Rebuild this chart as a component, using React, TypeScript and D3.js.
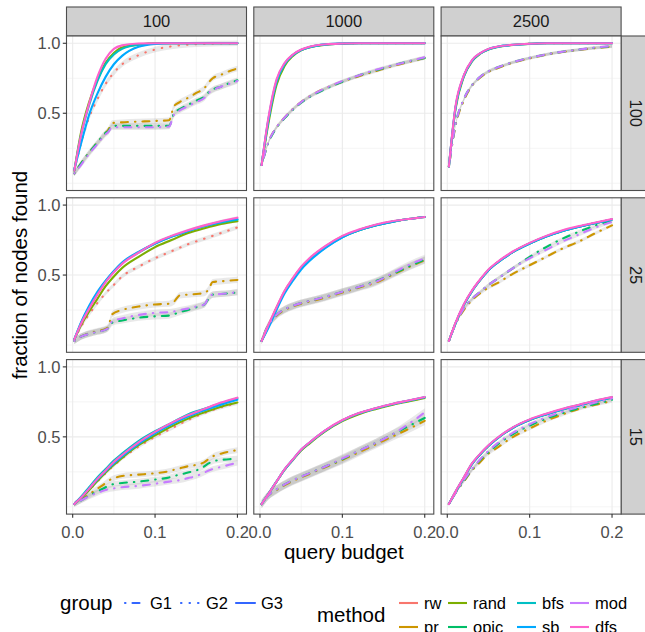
import React from "react";
import * as d3 from "d3";

// ---------- data ----------
const methods = ["rw", "pr", "rand", "opic", "bfs", "sb", "mod", "dfs"];
const methodColors = ["#F8766D", "#CD9600", "#7CAE00", "#00BE67", "#00BFC4", "#00A9FF", "#C77CFF", "#FF61CC"];
const methodGroup: Record<string, string> = { rw: "G2", pr: "G1", rand: "G3", opic: "G1", bfs: "G3", sb: "G3", mod: "G1", dfs: "G3" };
const groups = ["G1", "G2", "G3"];
const colLabels = ["100", "1000", "2500"];
const rowLabels = ["100", "25", "15"];
const xTicks = [0, 0.1, 0.2];
const xTickLabels = ["0.0", "0.1", "0.2"];
const xMinor = [0.05, 0.15];
const yTicks = [0.5, 1.0];
const yTickLabels = ["0.5", "1.0"];
const yMinor = [0, 0.25, 0.75];

// query budget grid (coarse, 14 pts) and fine grid for stepped series (21 pts)
const X = [0.002, 0.01, 0.02, 0.03, 0.04, 0.05, 0.06, 0.08, 0.1, 0.12, 0.14, 0.16, 0.18, 0.2];
const XS = [0.002, 0.01, 0.02, 0.03, 0.04, 0.043, 0.048, 0.06, 0.08, 0.1, 0.117, 0.123, 0.13, 0.14, 0.15, 0.16, 0.165, 0.17, 0.18, 0.19, 0.2];

// row "100"
const r100c100: Record<string, number[]> = {
  rw: [0.09, 0.28, 0.47, 0.6, 0.71, 0.79, 0.85, 0.915, 0.955, 0.978, 0.99, 0.995, 0.998, 1.0],
  pr: [0.07, 0.14, 0.22, 0.29, 0.36, 0.38, 0.43, 0.435, 0.44, 0.445, 0.45, 0.55, 0.58, 0.61, 0.645, 0.68, 0.72, 0.75, 0.775, 0.8, 0.82],
  rand: [0.09, 0.36, 0.58, 0.74, 0.86, 0.93, 0.97, 0.99, 1.0, 1.0, 1.0, 1.0, 1.0, 1.0],
  opic: [0.07, 0.14, 0.22, 0.29, 0.36, 0.37, 0.41, 0.41, 0.41, 0.41, 0.41, 0.5, 0.53, 0.56, 0.59, 0.62, 0.65, 0.67, 0.69, 0.715, 0.735],
  bfs: [0.09, 0.34, 0.56, 0.73, 0.85, 0.92, 0.96, 0.99, 0.998, 1.0, 1.0, 1.0, 1.0, 1.0],
  sb: [0.1, 0.28, 0.49, 0.64, 0.76, 0.85, 0.91, 0.975, 0.995, 1.0, 1.0, 1.0, 1.0, 1.0],
  mod: [0.07, 0.13, 0.21, 0.28, 0.35, 0.365, 0.4, 0.4, 0.4, 0.4, 0.405, 0.49, 0.52, 0.55, 0.58, 0.61, 0.645, 0.665, 0.69, 0.71, 0.73],
  dfs: [0.09, 0.34, 0.57, 0.76, 0.89, 0.96, 0.985, 0.998, 1.0, 1.0, 1.0, 1.0, 1.0, 1.0],
};
const r100c1000: Record<string, number[]> = {
  rw: [0.13, 0.44, 0.72, 0.85, 0.915, 0.95, 0.972, 0.99, 0.997, 1.0, 1.0, 1.0, 1.0, 1.0],
  pr: [0.13, 0.29, 0.4, 0.47, 0.53, 0.58, 0.62, 0.68, 0.725, 0.765, 0.8, 0.835, 0.865, 0.895],
  rand: [0.13, 0.42, 0.7, 0.84, 0.91, 0.95, 0.97, 0.99, 0.997, 1.0, 1.0, 1.0, 1.0, 1.0],
  opic: [0.13, 0.285, 0.395, 0.465, 0.525, 0.575, 0.615, 0.675, 0.725, 0.77, 0.805, 0.84, 0.87, 0.895],
  bfs: [0.13, 0.44, 0.72, 0.85, 0.915, 0.952, 0.972, 0.992, 0.998, 1.0, 1.0, 1.0, 1.0, 1.0],
  sb: [0.13, 0.45, 0.73, 0.855, 0.918, 0.953, 0.973, 0.992, 0.998, 1.0, 1.0, 1.0, 1.0, 1.0],
  mod: [0.13, 0.29, 0.4, 0.47, 0.53, 0.58, 0.62, 0.68, 0.73, 0.77, 0.81, 0.84, 0.87, 0.9],
  dfs: [0.13, 0.46, 0.74, 0.86, 0.92, 0.955, 0.975, 0.993, 0.998, 1.0, 1.0, 1.0, 1.0, 1.0],
};
const r100c2500: Record<string, number[]> = {
  rw: [0.12, 0.54, 0.765, 0.875, 0.928, 0.958, 0.974, 0.989, 0.996, 1.0, 1.0, 1.0, 1.0, 1.0],
  pr: [0.12, 0.41, 0.59, 0.695, 0.755, 0.795, 0.82, 0.862, 0.892, 0.918, 0.938, 0.953, 0.966, 0.976],
  rand: [0.12, 0.53, 0.76, 0.87, 0.925, 0.955, 0.972, 0.988, 0.996, 1.0, 1.0, 1.0, 1.0, 1.0],
  opic: [0.12, 0.42, 0.6, 0.7, 0.76, 0.8, 0.825, 0.865, 0.895, 0.92, 0.94, 0.955, 0.968, 0.978],
  bfs: [0.12, 0.54, 0.765, 0.875, 0.928, 0.958, 0.974, 0.989, 0.996, 1.0, 1.0, 1.0, 1.0, 1.0],
  sb: [0.12, 0.54, 0.765, 0.875, 0.928, 0.958, 0.974, 0.989, 0.996, 1.0, 1.0, 1.0, 1.0, 1.0],
  mod: [0.12, 0.42, 0.6, 0.7, 0.76, 0.8, 0.825, 0.865, 0.895, 0.92, 0.94, 0.955, 0.97, 0.98],
  dfs: [0.12, 0.55, 0.77, 0.88, 0.93, 0.96, 0.975, 0.99, 0.997, 1.0, 1.0, 1.0, 1.0, 1.0],
};

// row "25"
const r25c100: Record<string, number[]> = {
  rw: [0.04, 0.13, 0.22, 0.3, 0.37, 0.43, 0.49, 0.56, 0.62, 0.67, 0.72, 0.76, 0.8, 0.84],
  pr: [0.03, 0.06, 0.085, 0.1, 0.115, 0.13, 0.22, 0.25, 0.275, 0.29, 0.295, 0.31, 0.355, 0.36, 0.365, 0.37, 0.4, 0.45, 0.455, 0.46, 0.465],
  rand: [0.04, 0.14, 0.24, 0.33, 0.42, 0.49, 0.55, 0.63, 0.7, 0.75, 0.8, 0.835, 0.865, 0.885],
  opic: [0.03, 0.06, 0.08, 0.095, 0.11, 0.12, 0.16, 0.175, 0.195, 0.205, 0.21, 0.22, 0.235, 0.25, 0.27, 0.29, 0.33, 0.36, 0.365, 0.37, 0.375],
  bfs: [0.04, 0.155, 0.27, 0.37, 0.455, 0.525, 0.585, 0.66, 0.725, 0.775, 0.815, 0.85, 0.875, 0.895],
  sb: [0.04, 0.16, 0.28, 0.38, 0.46, 0.53, 0.59, 0.665, 0.725, 0.775, 0.815, 0.85, 0.88, 0.9],
  mod: [0.03, 0.06, 0.08, 0.095, 0.11, 0.12, 0.17, 0.19, 0.215, 0.23, 0.235, 0.24, 0.25, 0.26, 0.275, 0.29, 0.34, 0.36, 0.365, 0.37, 0.38],
  dfs: [0.04, 0.15, 0.26, 0.36, 0.45, 0.52, 0.58, 0.66, 0.73, 0.78, 0.82, 0.855, 0.885, 0.91],
};
const r25c1000: Record<string, number[]> = {
  rw: [0.03, 0.135, 0.265, 0.385, 0.475, 0.555, 0.615, 0.705, 0.775, 0.82, 0.855, 0.88, 0.9, 0.915],
  pr: [0.03, 0.14, 0.21, 0.25, 0.275, 0.295, 0.31, 0.34, 0.375, 0.41, 0.445, 0.5, 0.555, 0.605],
  rand: [0.03, 0.135, 0.265, 0.385, 0.475, 0.555, 0.615, 0.705, 0.775, 0.82, 0.855, 0.88, 0.9, 0.915],
  opic: [0.03, 0.14, 0.215, 0.255, 0.28, 0.3, 0.315, 0.345, 0.38, 0.415, 0.455, 0.505, 0.56, 0.61],
  bfs: [0.03, 0.13, 0.26, 0.38, 0.47, 0.55, 0.61, 0.7, 0.77, 0.82, 0.855, 0.88, 0.9, 0.915],
  sb: [0.03, 0.12, 0.25, 0.37, 0.46, 0.54, 0.6, 0.695, 0.77, 0.82, 0.855, 0.88, 0.9, 0.915],
  mod: [0.03, 0.14, 0.215, 0.255, 0.28, 0.3, 0.315, 0.345, 0.38, 0.415, 0.45, 0.51, 0.57, 0.62],
  dfs: [0.03, 0.14, 0.27, 0.39, 0.48, 0.56, 0.62, 0.71, 0.78, 0.825, 0.86, 0.885, 0.9, 0.915],
};
const r25c2500: Record<string, number[]> = {
  rw: [0.03, 0.155, 0.285, 0.385, 0.465, 0.535, 0.585, 0.665, 0.725, 0.775, 0.815, 0.845, 0.872, 0.897],
  pr: [0.03, 0.15, 0.25, 0.32, 0.37, 0.41, 0.44, 0.51, 0.57, 0.63, 0.69, 0.74, 0.8, 0.855],
  rand: [0.03, 0.155, 0.285, 0.385, 0.465, 0.535, 0.585, 0.665, 0.725, 0.775, 0.815, 0.845, 0.872, 0.897],
  opic: [0.03, 0.15, 0.26, 0.33, 0.38, 0.43, 0.47, 0.55, 0.63, 0.7, 0.76, 0.81, 0.855, 0.89],
  bfs: [0.03, 0.155, 0.285, 0.385, 0.465, 0.535, 0.585, 0.665, 0.725, 0.775, 0.815, 0.845, 0.872, 0.897],
  sb: [0.03, 0.155, 0.285, 0.385, 0.465, 0.535, 0.585, 0.665, 0.725, 0.775, 0.815, 0.845, 0.872, 0.897],
  mod: [0.03, 0.15, 0.26, 0.33, 0.38, 0.43, 0.47, 0.55, 0.62, 0.68, 0.74, 0.79, 0.84, 0.88],
  dfs: [0.03, 0.16, 0.29, 0.39, 0.47, 0.54, 0.59, 0.67, 0.73, 0.78, 0.82, 0.85, 0.875, 0.9],
};

// row "15"
const r15c100: Record<string, number[]> = {
  rw: [0.02, 0.06, 0.12, 0.18, 0.24, 0.295, 0.345, 0.43, 0.5, 0.56, 0.62, 0.67, 0.71, 0.74],
  pr: [0.02, 0.05, 0.09, 0.13, 0.17, 0.185, 0.2, 0.22, 0.23, 0.24, 0.255, 0.265, 0.275, 0.29, 0.3, 0.32, 0.34, 0.36, 0.38, 0.395, 0.405],
  rand: [0.02, 0.06, 0.12, 0.185, 0.245, 0.3, 0.35, 0.44, 0.51, 0.575, 0.63, 0.675, 0.715, 0.745],
  opic: [0.02, 0.045, 0.08, 0.11, 0.14, 0.15, 0.16, 0.17, 0.18, 0.195, 0.21, 0.22, 0.23, 0.245, 0.26, 0.29, 0.31, 0.325, 0.335, 0.34, 0.345],
  bfs: [0.02, 0.07, 0.14, 0.21, 0.27, 0.33, 0.38, 0.47, 0.54, 0.6, 0.66, 0.7, 0.74, 0.775],
  sb: [0.02, 0.065, 0.13, 0.195, 0.255, 0.31, 0.36, 0.45, 0.525, 0.59, 0.645, 0.69, 0.73, 0.765],
  mod: [0.02, 0.045, 0.075, 0.1, 0.12, 0.125, 0.13, 0.14, 0.15, 0.165, 0.18, 0.185, 0.19, 0.205, 0.22, 0.245, 0.26, 0.27, 0.285, 0.3, 0.315],
  dfs: [0.02, 0.065, 0.13, 0.2, 0.26, 0.32, 0.37, 0.46, 0.535, 0.6, 0.655, 0.7, 0.745, 0.78],
};
const r15c1000: Record<string, number[]> = {
  rw: [0.02, 0.09, 0.18, 0.265, 0.335, 0.405, 0.455, 0.545, 0.615, 0.665, 0.7, 0.73, 0.755, 0.78],
  pr: [0.02, 0.08, 0.12, 0.155, 0.185, 0.21, 0.235, 0.285, 0.335, 0.39, 0.445, 0.5, 0.555, 0.615],
  rand: [0.02, 0.09, 0.178, 0.265, 0.335, 0.402, 0.452, 0.542, 0.612, 0.662, 0.698, 0.728, 0.753, 0.778],
  opic: [0.02, 0.08, 0.125, 0.16, 0.19, 0.215, 0.24, 0.29, 0.34, 0.4, 0.455, 0.515, 0.575, 0.635],
  bfs: [0.02, 0.09, 0.18, 0.268, 0.338, 0.408, 0.458, 0.548, 0.618, 0.668, 0.703, 0.733, 0.758, 0.783],
  sb: [0.02, 0.09, 0.18, 0.268, 0.338, 0.408, 0.458, 0.548, 0.618, 0.668, 0.703, 0.733, 0.758, 0.783],
  mod: [0.02, 0.08, 0.125, 0.16, 0.19, 0.215, 0.24, 0.29, 0.345, 0.4, 0.455, 0.515, 0.59, 0.675],
  dfs: [0.02, 0.09, 0.18, 0.27, 0.34, 0.41, 0.46, 0.55, 0.62, 0.67, 0.705, 0.735, 0.76, 0.785],
};
const r15c2500: Record<string, number[]> = {
  rw: [0.02, 0.105, 0.205, 0.305, 0.375, 0.435, 0.485, 0.565, 0.62, 0.66, 0.695, 0.725, 0.755, 0.78],
  pr: [0.02, 0.1, 0.18, 0.26, 0.32, 0.38, 0.42, 0.5, 0.56, 0.615, 0.66, 0.7, 0.73, 0.755],
  rand: [0.02, 0.105, 0.205, 0.305, 0.375, 0.435, 0.485, 0.565, 0.62, 0.66, 0.695, 0.725, 0.755, 0.78],
  opic: [0.02, 0.1, 0.185, 0.265, 0.335, 0.39, 0.44, 0.52, 0.58, 0.63, 0.67, 0.705, 0.735, 0.765],
  bfs: [0.02, 0.108, 0.208, 0.308, 0.378, 0.438, 0.488, 0.568, 0.623, 0.663, 0.698, 0.728, 0.758, 0.783],
  sb: [0.02, 0.105, 0.205, 0.305, 0.375, 0.435, 0.485, 0.565, 0.62, 0.66, 0.695, 0.725, 0.755, 0.78],
  mod: [0.02, 0.1, 0.19, 0.27, 0.34, 0.4, 0.45, 0.53, 0.59, 0.64, 0.68, 0.715, 0.745, 0.775],
  dfs: [0.02, 0.11, 0.21, 0.31, 0.38, 0.44, 0.49, 0.57, 0.625, 0.665, 0.7, 0.73, 0.76, 0.785],
};

const panels = [r100c100, r100c1000, r100c2500, r25c100, r25c1000, r25c2500, r15c100, r15c1000, r15c2500];
// confidence-band half widths per panel, by group
const seG1 = [0.02, 0.012, 0.01, 0.022, 0.025, 0.012, 0.02, 0.03, 0.012];
const seG2 = [0.02, 0.005, 0.005, 0.015, 0.005, 0.005, 0.012, 0.005, 0.005];
const seG3 = [0.006, 0.005, 0.004, 0.01, 0.006, 0.005, 0.008, 0.006, 0.005];

// ---------- layout / style ----------
const W = 645, H = 632;
const PL = [66.5, 253.8, 441.1];
const PW = 180;
const PT = [36, 197.8, 359.6];
const PH = 154.5;
const STRIP = 29;
const FONT = '"Liberation Sans", Arial, Helvetica, sans-serif';
const dashFor: Record<string, string | undefined> = { G1: "0.5,7,7,7", G2: "0.5,8", G3: undefined };
const LW = 2.1;
const BORDER = "#4D4D4D";

export default function App() {
  const x = d3.scaleLinear().domain([-0.0075, 0.211]).range([0, PW]);
  const y = d3.scaleLinear().domain([-0.052, 1.052]).range([PH, 0]);
  const line = d3
    .line<[number, number]>()
    .x((d) => x(d[0]))
    .y((d) => y(d[1]))
    .curve(d3.curveMonotoneX);
  const area = d3
    .area<[number, number, number]>()
    .x((d) => x(d[0]))
    .y0((d) => y(d[1] - d[2]))
    .y1((d) => y(d[1] + d[2]))
    .curve(d3.curveMonotoneX);

  const seFor = (g: string, i: number) => (g === "G1" ? seG1[i] : g === "G2" ? seG2[i] : seG3[i]);

  const panelEls: React.ReactNode[] = [];
  panels.forEach((pd, i) => {
    const r = Math.floor(i / 3);
    const c = i % 3;
    const px = PL[c];
    const py = PT[r];
    const series = methods.map((m, mi) => {
      const ys = pd[m];
      const xs = ys.length === XS.length ? XS : X;
      const pts = xs.map((xv, k) => [xv, ys[k]] as [number, number]);
      const g = methodGroup[m];
      const se = seFor(g, i);
      return { m, color: methodColors[mi], g, pts, se };
    });
    panelEls.push(
      <g key={"p" + i} transform={`translate(${px},${py})`}>
        <defs>
          <clipPath id={"clip" + i}>
            <rect x={0} y={0} width={PW} height={PH} />
          </clipPath>
        </defs>
        <rect x={0} y={0} width={PW} height={PH} fill="#FFFFFF" />
        {yMinor.map((v) => (
          <line key={"ym" + v} x1={0} x2={PW} y1={y(v)} y2={y(v)} stroke="#EBEBEB" strokeWidth={0.55} />
        ))}
        {xMinor.map((v) => (
          <line key={"xm" + v} x1={x(v)} x2={x(v)} y1={0} y2={PH} stroke="#EBEBEB" strokeWidth={0.55} />
        ))}
        {yTicks.map((v) => (
          <line key={"yM" + v} x1={0} x2={PW} y1={y(v)} y2={y(v)} stroke="#EBEBEB" strokeWidth={1.1} />
        ))}
        {xTicks.map((v) => (
          <line key={"xM" + v} x1={x(v)} x2={x(v)} y1={0} y2={PH} stroke="#EBEBEB" strokeWidth={1.1} />
        ))}
        <g clipPath={`url(#clip${i})`}>
          {series.map((s) => (
            <path
              key={"rib" + s.m}
              d={area(s.pts.map((p) => [p[0], p[1], s.se] as [number, number, number])) || ""}
              fill="#999999"
              fillOpacity={0.22}
              stroke="none"
            />
          ))}
          {series.map((s) => (
            <path
              key={"ln" + s.m}
              d={line(s.pts) || ""}
              fill="none"
              stroke={s.color}
              strokeWidth={LW}
              strokeDasharray={dashFor[s.g]}
              strokeLinecap="round"
              strokeLinejoin="round"
            />
          ))}
        </g>
        <rect x={0} y={0} width={PW} height={PH} fill="none" stroke={BORDER} strokeWidth={1.1} />
        {c === 0 &&
          yTicks.map((v, k) => (
            <g key={"yt" + v}>
              <line x1={-3.7} x2={0} y1={y(v)} y2={y(v)} stroke="#333333" strokeWidth={1.1} />
              <text x={-6} y={y(v)} dy="0.36em" textAnchor="end" fontSize={16.5} fill="#4D4D4D" fontFamily={FONT}>
                {yTickLabels[k]}
              </text>
            </g>
          ))}
        {r === 2 &&
          xTicks.map((v, k) => (
            <g key={"xt" + v}>
              <line x1={x(v)} x2={x(v)} y1={PH} y2={PH + 3.7} stroke="#333333" strokeWidth={1.1} />
              <text x={x(v)} y={PH + 23.5} textAnchor="middle" fontSize={16.5} fill="#4D4D4D" fontFamily={FONT}>
                {xTickLabels[k]}
              </text>
            </g>
          ))}
      </g>
    );
  });

  // legend positions
  const gKeyX = [124, 180, 235];
  const mKeyX = [399, 448, 517, 570];
  const legRowY = [603, 627];

  return (
    <svg width={W} height={H} style={{ position: "absolute", left: 0, top: 0, background: "#FFFFFF" }} fontFamily={FONT}>
      <rect x={0} y={0} width={W} height={H} fill="#FFFFFF" />
      {/* column strips */}
      {colLabels.map((lab, c) => (
        <g key={"cs" + c}>
          <rect x={PL[c]} y={PT[0] - STRIP} width={PW} height={STRIP} fill="#D0D0D0" stroke={BORDER} strokeWidth={1.1} />
          <text x={PL[c] + PW / 2} y={PT[0] - STRIP / 2} dy="0.36em" textAnchor="middle" fontSize={16.5} fill="#1A1A1A">
            {lab}
          </text>
        </g>
      ))}
      {/* row strips */}
      {rowLabels.map((lab, r) => (
        <g key={"rs" + r}>
          <rect x={PL[2] + PW} y={PT[r]} width={STRIP} height={PH} fill="#D0D0D0" stroke={BORDER} strokeWidth={1.1} />
          <text
            transform={`translate(${PL[2] + PW + STRIP / 2},${PT[r] + PH / 2}) rotate(90)`}
            dy="0.36em"
            textAnchor="middle"
            fontSize={16.5}
            fill="#1A1A1A"
          >
            {lab}
          </text>
        </g>
      ))}
      {panelEls}
      {/* axis titles */}
      <text x={(PL[0] + PL[2] + PW) / 2} y={559} textAnchor="middle" fontSize={20.5} fill="#000000">
        query budget
      </text>
      <text transform={`translate(27,${(PT[0] + PT[2] + PH) / 2}) rotate(-90)`} textAnchor="middle" fontSize={20.5} fill="#000000">
        fraction of nodes found
      </text>
      {/* group legend */}
      <text x={60} y={legRowY[0]} dy="0.36em" fontSize={20.5} fill="#000000">
        group
      </text>
      {groups.map((g, k) => (
        <g key={"lg" + g}>
          <line
            x1={gKeyX[k] + 1}
            x2={gKeyX[k] + 20}
            y1={legRowY[0]}
            y2={legRowY[0]}
            stroke="#3366FF"
            strokeWidth={LW}
            strokeDasharray={dashFor[g]}
            strokeLinecap="round"
          />
          <text x={gKeyX[k] + 26} y={legRowY[0]} dy="0.36em" fontSize={16.5} fill="#000000">
            {g}
          </text>
        </g>
      ))}
      {/* method legend */}
      <text x={317} y={(legRowY[0] + legRowY[1]) / 2} dy="0.36em" fontSize={20.5} fill="#000000">
        method
      </text>
      {methods.map((m, mi) => {
        const col = Math.floor(mi / 2);
        const row = mi % 2;
        const kx = mKeyX[col];
        const ky = legRowY[row];
        return (
          <g key={"lm" + m}>
            <line x1={kx} x2={kx + 19} y1={ky} y2={ky} stroke={methodColors[mi]} strokeWidth={LW} />
            <text x={kx + 25} y={ky} dy="0.36em" fontSize={16.5} fill="#000000">
              {m}
            </text>
          </g>
        );
      })}
    </svg>
  );
}
